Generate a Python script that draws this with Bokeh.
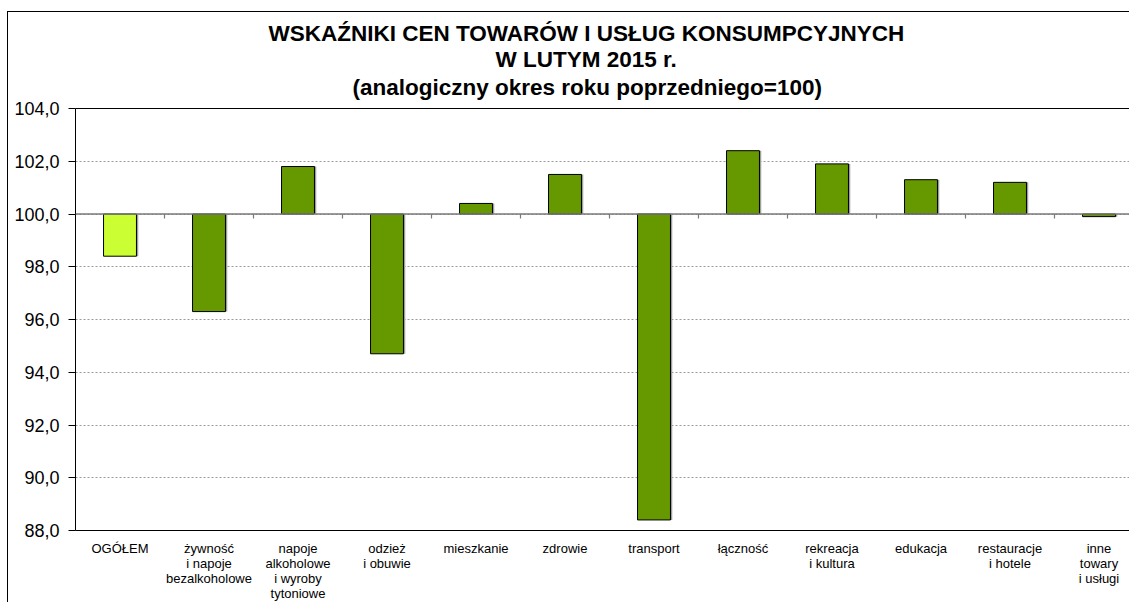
from bokeh.plotting import figure
from bokeh.models import (ColumnDataSource, FixedTicker, LinearAxis, Range1d,
                          Span, Title)
from bokeh.transform import dodge
from bokeh.embed import file_html
from bokeh.resources import INLINE

# ---------------- data ----------------
categories = ["OGÓŁEM",
              "żywność\ni napoje\nbezalkoholowe",
              "napoje\nalkoholowe\ni wyroby\ntytoniowe",
              "odzież\ni obuwie",
              "mieszkanie",
              "zdrowie",
              "transport",
              "łączność",
              "rekreacja\ni kultura",
              "edukacja",
              "restauracje\ni hotele",
              "inne\ntowary\ni usługi"]
values = [98.4, 96.3, 101.8, 94.7, 100.4, 101.5, 88.4, 102.4, 101.9, 101.3, 101.2, 99.9]
bar_colors = ["#CCFF33"] + ["#669900"] * 11
baseline = 100
yticks = [88, 90, 92, 94, 96, 98, 100, 102, 104]
ytick_labels = ["88,0", "90,0", "92,0", "94,0", "96,0", "98,0", "100,0", "102,0", "104,0"]
title_lines = ["WSKAŹNIKI CEN TOWARÓW I USŁUG KONSUMPCYJNYCH",
               "W LUTYM 2015 r.",
               "(analogiczny okres roku poprzedniego=100)"]

# ---------------- layout ----------------
W, H = 1122, 591
LEFT, TOP, BOTTOM = 67, 96, 73
CAT_PX = 89
x_end = (W - LEFT) / CAT_PX
FONT = "Liberation Sans"
title_offsets = [193, 420, 277]   # left start of each title line from frame left (px)
title_standoffs = [12, -14, 17]   # vertical spacing tweaks per title line

p = figure(width=W, height=H, output_backend="svg", toolbar_location=None,
           x_range=Range1d(0, x_end), y_range=Range1d(yticks[0], yticks[-1]),
           min_border_left=LEFT, min_border_right=0, min_border_top=TOP,
           min_border_bottom=BOTTOM, background_fill_color="white",
           border_fill_color="white")
p.margin = (11, 0, 0, 7)
p.styles = {"border-left": "1px solid black", "border-top": "1px solid black"}
p.outline_line_color = None

# y axis
yax = p.yaxis[0]
yax.ticker = FixedTicker(ticks=yticks)
yax.major_label_overrides = {t: l for t, l in zip(yticks, ytick_labels)}
yax.major_tick_out = 7
yax.major_tick_in = 0
yax.minor_tick_line_color = None
yax.major_tick_line_color = "black"
yax.axis_line_color = "black"
yax.major_label_standoff = 9
yax.major_label_text_font = FONT
yax.major_label_text_font_size = "18px"
yax.major_label_text_color = "black"

n = len(categories)
centers = [i + 0.5 for i in range(n)]

# x axis with category labels
xax = p.xaxis[0]
xax.ticker = FixedTicker(ticks=centers)
xax.major_label_overrides = {c: l for c, l in zip(centers, categories)}
xax.major_tick_line_color = None
xax.minor_tick_line_color = None
xax.axis_line_color = "black"
xax.major_label_standoff = 4
xax.major_label_text_font = FONT
xax.major_label_text_font_size = "13px"
xax.major_label_text_line_height = 1.0
xax.major_label_text_color = "black"

# top edge of plot area
top_ax = LinearAxis(ticker=FixedTicker(ticks=[]), major_tick_line_color=None,
                    minor_tick_line_color=None, axis_line_color="black",
                    major_label_text_font_size="0px", major_label_standoff=0)
p.add_layout(top_ax, "above")

# title lines (added innermost first)
for i in reversed(range(len(title_lines))):
    p.add_layout(Title(text=title_lines[i], align="left", offset=title_offsets[i],
                       text_font=FONT, text_font_style="bold",
                       text_font_size="22.5px", text_color="black",
                       standoff=title_standoffs[i], text_line_height=1.1), "above")

# grid
p.xgrid.grid_line_color = None
p.ygrid.ticker = FixedTicker(ticks=yticks[1:-1])
p.ygrid.grid_line_color = "#9a9a9a"
p.ygrid.grid_line_dash = "2 2"

src = ColumnDataSource(dict(x=centers, top=values, color=bar_colors))

# shadow + bars
p.vbar(x=dodge("x", 1.8 / CAT_PX), top="top", bottom=baseline, width=0.37,
       source=src, fill_color="#9e9e9e", line_color=None)
p.vbar(x="x", top="top", bottom=baseline, width=0.37, source=src,
       fill_color="color", line_color="black", line_width=1)

# axis line at 100 with category boundary ticks
p.add_layout(Span(location=baseline, dimension="width", line_color="#7a7a7a",
                  line_width=1.5))
bounds = list(range(1, n))
p.segment(x0=bounds, y0=[baseline] * len(bounds), x1=bounds,
          y1=[baseline - 0.17] * len(bounds), line_color="#7a7a7a", line_width=1.2)

open("out.html", "w").write(file_html(p, INLINE))
